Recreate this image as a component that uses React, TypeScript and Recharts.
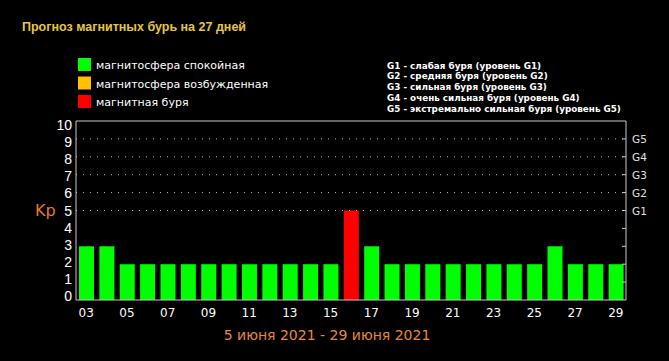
import React from 'react';
import { BarChart, Bar, XAxis, YAxis, Cell, ReferenceLine } from 'recharts';

const days = ['03','04','05','06','07','08','09','10','11','12','13','14','15','16','17','18','19','20','21','22','23','24','25','26','27','28','29'];
const kpValues = [3,3,2,2,2,2,2,2,2,2,2,2,2,5,3,2,2,2,2,2,2,2,2,3,2,2,2];
const kpTicks = [0,1,2,3,4,5,6,7,8,9,10];
const rightTicks = [1,2,3,4,5,6,7,8,9];
const gridLevels = [5,6,7,8,9];
const gLabels: Record<number,string> = { 5: 'G1', 6: 'G2', 7: 'G3', 8: 'G4', 9: 'G5' };
const legendLabels = ['магнитосфера спокойная', 'магнитосфера возбужденная', 'магнитная буря'];
const legendColors = ['#00ff00', '#ffc000', '#ff0000'];
const gDescriptions = [
  'G1 - слабая буря (уровень G1)',
  'G2 - средняя буря (уровень G2)',
  'G3 - сильная буря (уровень G3)',
  'G4 - очень сильная буря (уровень G4)',
  'G5 - экстремально сильная буря (уровень G5)',
];
const title = 'Прогноз магнитных бурь на 27 дней';
const periodLabel = '5 июня 2021 - 29 июня 2021';

const data = days.map((d, i) => ({ day: d, kp: kpValues[i] }));
const boundaries = days.map((_, i) => i).slice(1);

const colorFor = (kp: number) => (kp >= 5 ? legendColors[2] : kp >= 4 ? legendColors[1] : legendColors[0]);

const AXIS = '#c8c8c8';

const LeftTick = (props: any) => {
  const { x, y, payload } = props;
  const dy = (payload.value - 5) * 0.85;
  return (
    <text x={x} y={y + dy} textAnchor="end" dominantBaseline="central" fill="#ffffff" fontSize={14} fontFamily="Liberation Sans, Arial, sans-serif">
      {payload.value}
    </text>
  );
};

const RightTick = (props: any) => {
  const { x, y, payload } = props;
  const label = gLabels[payload.value];
  return (
    <g>
      <line x1={x - 10} x2={x - 6} y1={y} y2={y} stroke={AXIS} />
      {label ? (
        <text x={x} y={y} textAnchor="start" dominantBaseline="central" fill="#e0e0e0" fontSize={10.5} fontFamily="DejaVu Sans, sans-serif">
          {label}
        </text>
      ) : null}
    </g>
  );
};

export default function App() {
  return (
    <div style={{ position: 'absolute', left: 0, top: 0, width: 669, height: 361, background: '#000', overflow: 'hidden' }}>
      <BarChart width={669} height={361} data={data} margin={{ top: 121, right: 3, bottom: 31, left: 46 }}>
        {gridLevels.map((lv) => (
          <ReferenceLine key={lv} y={lv} stroke="#bdbdbd" strokeDasharray="1 6" />
        ))}
        <XAxis
          dataKey="day"
          interval={1}
          tickLine={false}
          tickSize={0}
          tickMargin={8}
          height={30}
          axisLine={{ stroke: AXIS }}
          tick={{ fill: '#ffffff', fontSize: 12, fontFamily: 'DejaVu Sans, sans-serif' }}
        />
        <XAxis
          xAxisId="bottomTicks"
          type="number"
          domain={[0, days.length]}
          ticks={boundaries}
          orientation="bottom"
          mirror
          tick={false}
          tickSize={4}
          tickLine={{ stroke: AXIS }}
          axisLine={false}
          allowDataOverflow
        />
        <XAxis
          xAxisId="topTicks"
          type="number"
          domain={[0, days.length]}
          ticks={boundaries}
          orientation="top"
          mirror
          tick={false}
          tickSize={4}
          tickLine={{ stroke: AXIS }}
          axisLine={{ stroke: AXIS }}
          allowDataOverflow
        />
        <YAxis
          domain={[0, 10]}
          ticks={kpTicks}
          interval={0}
          width={30}
          tickLine={false}
          tickSize={2}
          tickMargin={2}
          axisLine={{ stroke: AXIS }}
          tick={<LeftTick />}
        />
        <YAxis
          yAxisId="gLabels"
          orientation="right"
          domain={[0, 10]}
          ticks={rightTicks}
          interval={0}
          width={40}
          tickLine={false}
          axisLine={{ stroke: AXIS }}
          tickSize={0}
          tickMargin={6}
          tick={<RightTick />}
          allowDataOverflow
        />
        <Bar dataKey="kp" barSize={15} isAnimationActive={false}>
          {data.map((d, i) => (
            <Cell key={i} fill={colorFor(d.kp)} />
          ))}
        </Bar>
      </BarChart>
      <svg width={669} height={361} style={{ position: 'absolute', left: 0, top: 0, pointerEvents: 'none' }}>
        <text x={22} y={31} fill="#e6c641" fontSize={12.5} fontWeight="bold" fontFamily="Liberation Sans, Arial, sans-serif">
          {title}
        </text>
        {legendLabels.map((lab, i) => (
          <g key={lab}>
            <rect x={78} y={58 + i * 18.5} width={13} height={13} fill={legendColors[i]} />
            <text x={96} y={69 + i * 18.5} fill="#ffffff" fontSize={11} fontFamily="DejaVu Sans, sans-serif">
              {lab}
            </text>
          </g>
        ))}
        {gDescriptions.map((t, i) => (
          <text key={t} x={387} y={68.5 + i * 10.8} fill="#ffffff" fontSize={8.8} fontWeight="bold" fontFamily="DejaVu Sans, sans-serif">
            {t}
          </text>
        ))}
        <text x={35} y={216} fill="#e07a30" fontSize={16} fontFamily="DejaVu Sans, sans-serif">
          Kp
        </text>
        <text x={327} y={340} textAnchor="middle" fill="#e8883a" fontSize={14} fontFamily="DejaVu Sans, sans-serif">
          {periodLabel}
        </text>
      </svg>
    </div>
  );
}
